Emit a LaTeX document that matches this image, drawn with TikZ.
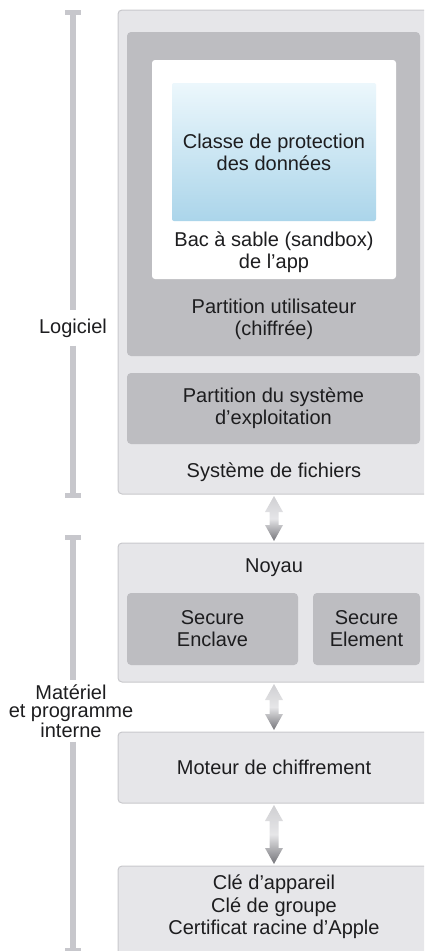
\documentclass[tikz,border=0pt]{standalone}
\usepackage{fontspec}
\setmainfont{Liberation Sans}
\usetikzlibrary{arrows.meta, calc}
\definecolor{ink}{HTML}{1D1D1F}
\definecolor{pale}{HTML}{E6E6E9}
\definecolor{edge}{HTML}{C8C8CC}
\definecolor{slab}{HTML}{BDBDC1}
\definecolor{rule}{HTML}{C7C7CC}
\definecolor{skytop}{HTML}{ECF7FC}
\definecolor{skybot}{HTML}{ABD5EA}
\definecolor{arrtop}{HTML}{CFCFD2}
\definecolor{arrmid}{HTML}{E6E6E8}
\definecolor{arrbot}{HTML}{75757A}

% shaded two-way block arrow between two stacked boxes
\newcommand{\biarrow}[2]{%
  \shade[top color=arrtop, bottom color=arrbot, middle color=arrmid]
    let \p1=(#1.south), \p2=(#2.north) in
    (\x1,\y1-2pt) -- ++(9pt,-16pt) -- ++(-4.5pt,0pt) -- (\x1+4.5pt,\y2+18pt)
    -- ++(4.5pt,0pt) -- (\x1,\y2+2pt) -- ++(-9pt,16pt) -- ++(4.5pt,0pt)
    -- (\x1-4.5pt,\y1-18pt) -- ++(-4.5pt,0pt) -- cycle;}

\begin{document}
\begin{tikzpicture}[x=1pt, y=-1pt,
  panel/.style={rounded corners=4pt, inner sep=0pt, outer sep=0pt,
    anchor=north west, align=center, text=ink,
    font=\fontsize{20}{22}\selectfont},
  shell/.style={panel, fill=pale, draw=edge, line width=1pt, minimum width=312pt},
  slot/.style={panel, fill=slab},
  txt/.style={align=center, text=ink, font=\fontsize{20}{22}\selectfont, inner sep=0pt},
  side/.style={align=center, text=ink, font=\fontsize{20}{18.5}\selectfont, inner xsep=0pt},
  rail/.style={rule, line width=6pt},
  railend/.tip={Rectangle[width=16pt, length=5pt, line width=0pt]}
]
\useasboundingbox (0,0) rectangle (424,951);
\clip (0,0) rectangle (424,951);

% software stack
\node[shell, minimum height=484pt] (fs) at (118,10) {};
\node[slot, minimum width=293pt, minimum height=324pt] (user) at (127,32) {};
\node[panel, fill=white, rounded corners=3pt, minimum width=244pt, minimum height=219pt] (sandbox) at (152,60) {};
\node[panel, rounded corners=2pt, top color=skytop, bottom color=skybot,
  minimum width=204pt, minimum height=138pt] (dpclass) at (172,83) {Classe de protection\\des données};
\node[txt] (sandboxlbl) at (274,252.5) {Bac à sable (sandbox)\\de l’app};
\node[txt] (userlbl) at (274,319) {Partition utilisateur\\(chiffrée)};
\node[slot, minimum width=293pt, minimum height=71pt] (ospart) at (127,373) {Partition du système\\d’exploitation};
\node[txt] (fslbl) at (274,472) {Système de fichiers};

% hardware stack
\node[shell, minimum height=139pt] (kernel) at (118,543) {};
\node[txt] (kernellbl) at (274,568) {Noyau};
\node[slot, minimum width=171pt, minimum height=72pt] (enclave) at (127,593) {Secure\\Enclave};
\node[slot, minimum width=107pt, minimum height=72pt] (element) at (313,593) {Secure\\Element};
\node[shell, minimum height=71pt] (engine) at (118,732) {Moteur de chiffrement};
\node[shell, minimum height=100pt] (keys) at (118,866) {};
\node[txt, font=\fontsize{20}{22.5}\selectfont] (keyslbl) at (274,907) {Clé d’appareil\\Clé de groupe\\Certificat racine d’Apple};

\biarrow{fs}{kernel}
\biarrow{kernel}{engine}
\biarrow{engine}{keys}

% side rails
\coordinate (softtop) at (73,10);
\coordinate (softbot) at (73,498);
\node[side, inner ysep=8pt] (soft) at (73,328) {Logiciel};
\draw[rail, {railend}-] (softtop) -- (soft);
\draw[rail, -{railend}] (soft) -- (softbot);

\coordinate (hardtop) at (73,535);
\coordinate (hardbot) at (73,953);
\node[side, inner ysep=4pt] (hard) at (71,711) {Matériel\\et programme\\interne};
\draw[rail, {railend}-] (hardtop) -- (hard.north -| hardtop);
\draw[rail, -{railend}] (hard.south -| hardbot) -- (hardbot);
\end{tikzpicture}
\end{document}
